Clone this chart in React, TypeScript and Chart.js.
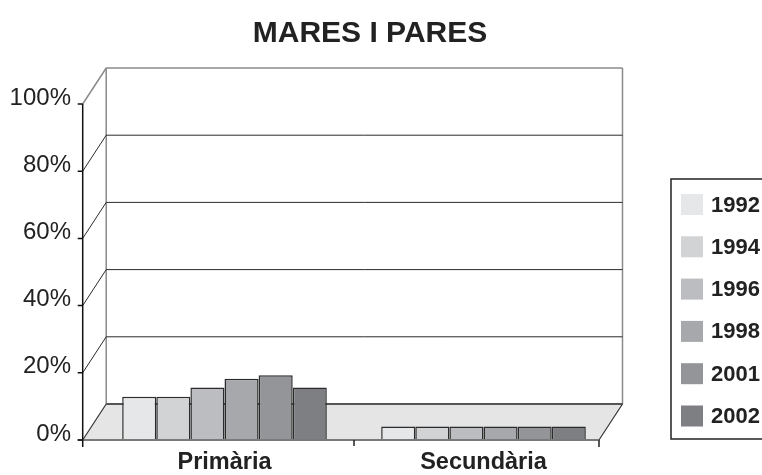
import React, { useEffect, useRef } from "react";
import { Chart, registerables } from "chart.js";

Chart.register(...registerables);

const titleText = "MARES I PARES";
const categories = ["Primària", "Secundària"];
const years = ["1992", "1994", "1996", "1998", "2001", "2002"];
const v1992 = [12.9, 4.0];
const v1994 = [12.9, 4.0];
const v1996 = [15.6, 4.0];
const v1998 = [18.2, 4.0];
const v2001 = [19.3, 4.0];
const v2002 = [15.6, 4.0];
const seriesValues = [v1992, v1994, v1996, v1998, v2001, v2002];
const seriesColors = ["#e6e7e9", "#d2d3d5", "#bcbdc0", "#a7a8ab", "#939598", "#7e7f82"];
const yTicks = [0, 20, 40, 60, 80, 100];

const FONT = "'Liberation Sans', Arial, Helvetica, sans-serif";

const frame3d = {
  id: "frame3d",
  beforeDatasetsDraw(chart: any) {
    const ctx = chart.ctx;
    const ca = chart.chartArea;
    const ys = chart.scales.y;
    const FL = ca.left - 12.3;
    const FR = ca.right - 14;
    const dx = 23.5;
    const dy = -36;
    const BL = FL + dx;
    const BR = FR + dx;
    const y0 = ys.getPixelForValue(0);
    const y100 = ys.getPixelForValue(100);
    ctx.save();
    // floor
    ctx.beginPath();
    ctx.moveTo(FL, y0);
    ctx.lineTo(FR, y0);
    ctx.lineTo(BR, y0 + dy);
    ctx.lineTo(BL, y0 + dy);
    ctx.closePath();
    ctx.fillStyle = "#e5e5e6";
    ctx.fill();
    // back wall verticals
    ctx.strokeStyle = "#8a8a8a";
    ctx.lineWidth = 1.5;
    ctx.beginPath();
    ctx.moveTo(BL, y100 + dy);
    ctx.lineTo(BL, y0 + dy);
    ctx.moveTo(BR, y100 + dy);
    ctx.lineTo(BR, y0 + dy);
    ctx.stroke();
    // gridlines + diagonals
    yTicks.forEach((t) => {
      const yf = ys.getPixelForValue(t);
      if (t === 0) return;
      ctx.strokeStyle = t === 100 ? "#8a8a8a" : "#2a2a2a";
      ctx.lineWidth = t === 100 ? 1.5 : 1;
      ctx.beginPath();
      ctx.moveTo(BL, yf + dy);
      ctx.lineTo(BR, yf + dy);
      ctx.moveTo(FL, yf);
      ctx.lineTo(BL, yf + dy);
      ctx.stroke();
    });
    // floor edges
    ctx.strokeStyle = "#555";
    ctx.lineWidth = 2;
    ctx.beginPath();
    ctx.moveTo(BL, y0 + dy);
    ctx.lineTo(BR, y0 + dy);
    ctx.stroke();
    ctx.strokeStyle = "#333";
    ctx.lineWidth = 1.2;
    ctx.beginPath();
    ctx.moveTo(FL, y0);
    ctx.lineTo(BL, y0 + dy);
    ctx.moveTo(FR, y0);
    ctx.lineTo(BR, y0 + dy);
    ctx.stroke();
    ctx.restore();
  },
  afterDatasetsDraw(chart: any) {
    const ctx = chart.ctx;
    const ca = chart.chartArea;
    const ys = chart.scales.y;
    const FL = ca.left - 12.3;
    const FR = ca.right - 14;
    const y0 = ys.getPixelForValue(0);
    const y100 = ys.getPixelForValue(100);
    const mid = (ca.left + ca.right) / 2;
    ctx.save();
    // front x axis
    ctx.strokeStyle = "#7a7a7a";
    ctx.lineWidth = 2;
    ctx.beginPath();
    ctx.moveTo(FL - 5, y0);
    ctx.lineTo(FR, y0);
    ctx.stroke();
    ctx.strokeStyle = "#222";
    ctx.lineWidth = 1.5;
    ctx.beginPath();
    ctx.moveTo(mid, y0);
    ctx.lineTo(mid, y0 + 6);
    ctx.moveTo(FR, y0);
    ctx.lineTo(FR, y0 + 7);
    ctx.stroke();
    // front y axis
    ctx.strokeStyle = "#111";
    ctx.lineWidth = 1.5;
    ctx.beginPath();
    ctx.moveTo(FL, y100);
    ctx.lineTo(FL, y0 + 7);
    yTicks.forEach((t) => {
      const yf = ys.getPixelForValue(t);
      ctx.moveTo(FL - 5, yf);
      ctx.lineTo(FL, yf);
    });
    ctx.stroke();
    // title
    ctx.fillStyle = "#222";
    ctx.font = `bold 30px ${FONT}`;
    ctx.textAlign = "center";
    ctx.textBaseline = "alphabetic";
    ctx.fillText(titleText, 370, 42);
    // legend
    const lx = 671;
    const ly = 179;
    ctx.strokeStyle = "#222";
    ctx.lineWidth = 1.5;
    ctx.strokeRect(lx, ly, 120, 260);
    const ds = chart.data.datasets;
    ctx.font = `bold 22px ${FONT}`;
    ctx.textAlign = "left";
    ctx.textBaseline = "middle";
    ds.forEach((d: any, i: number) => {
      const cy = 204.5 + i * 42.3;
      ctx.fillStyle = d.backgroundColor;
      ctx.fillRect(681, cy - 10.5, 22, 21);
      ctx.fillStyle = "#222";
      ctx.fillText(d.label, 711, cy + 1);
    });
    ctx.restore();
  },
};

export default function App() {
  const ref = useRef<HTMLCanvasElement>(null);
  useEffect(() => {
    document.body.style.margin = "0";
    const canvas = ref.current!;
    const chart = new Chart(canvas, {
      type: "bar",
      data: {
        labels: categories,
        datasets: years.map((y, i) => ({
          label: y,
          data: seriesValues[i],
          backgroundColor: seriesColors[i],
          borderColor: "#2b2b2b",
          borderWidth: 1.5,
          categoryPercentage: 0.79,
          barPercentage: 1,
        })),
      },
      options: {
        animation: false,
        responsive: false,
        devicePixelRatio: 1,
        layout: { padding: { top: 104, right: 149, left: 0, bottom: 0 } },
        plugins: {
          legend: { display: false },
          title: { display: false },
          tooltip: { enabled: false },
        },
        scales: {
          x: {
            grid: { display: false },
            border: { display: false },
            ticks: {
              color: "#222",
              font: { family: FONT, size: 23.5, weight: "bold" },
              padding: 0,
            },
            afterFit: (s: any) => {
              s.height = 35;
            },
          },
          y: {
            min: 0,
            max: 100,
            grid: { display: false },
            border: { display: false },
            ticks: {
              stepSize: 20,
              color: "#222",
              font: { family: FONT, size: 24 },
              padding: 16,
              labelOffset: -6,
              callback: (v: any) => v + "%",
            },
            afterFit: (s: any) => {
              s.width = 95;
            },
          },
        },
      },
      plugins: [frame3d],
    });
    return () => chart.destroy();
  }, []);
  return (
    <div style={{ width: 762, height: 475, position: "relative", background: "#fff" }}>
      <canvas ref={ref} width={762} height={475} />
    </div>
  );
}
